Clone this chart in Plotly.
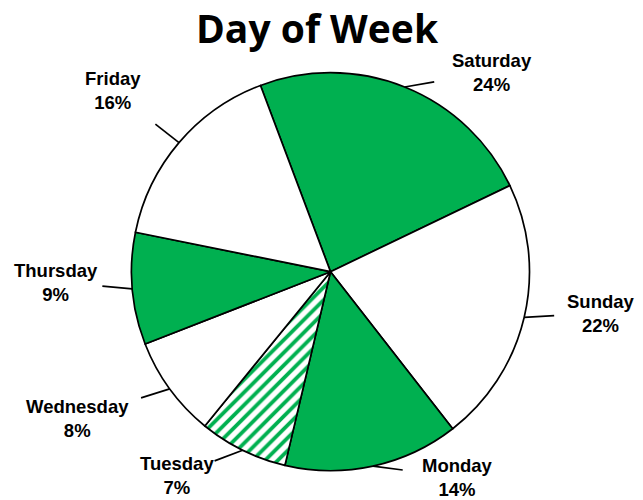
import math
import plotly.graph_objects as go

# ---- data ----
days = ["Saturday", "Sunday", "Monday", "Tuesday", "Wednesday", "Thursday", "Friday"]
shares = [23.6, 21.6, 14.2, 7.2, 8.2, 9.1, 16.1]
chart_title = "Day of Week"

# ---- styling / layout ----
GREEN = "#00B050"
slice_colors = [GREEN, "white", GREEN, "white", "white", GREEN, "white"]
slice_patterns = ["", "", "", "/", "", "", ""]

W, H = 643, 500
CX, CY, R = 330.5, 271.7, 199.0      # pie centre / radius in pixels
START_DEG = -20.6                    # first slice start (clockwise from 12 o'clock)

# where each outside label block is centred (pixels)
label_centres = {
    "Saturday": (492, 72),
    "Sunday": (601, 313),
    "Monday": (457, 477),
    "Tuesday": (177, 475),
    "Wednesday": (77, 418),
    "Thursday": (56, 282),
    "Friday": (113, 91),
}
LEADER_LEN = 30


def px(x):
    return x / W


def py(y):
    return 1 - y / H


fig = go.Figure()
fig.add_trace(go.Pie(
    labels=days,
    values=shares,
    sort=False,
    direction="clockwise",
    rotation=START_DEG,
    textinfo="none",
    hoverinfo="label+percent",
    showlegend=False,
    domain=dict(x=[px(CX - R), px(CX + R)], y=[py(CY + R), py(CY - R)]),
    marker=dict(
        colors=slice_colors,
        line=dict(color="black", width=1.7),
        pattern=dict(shape=slice_patterns, fgcolor=GREEN, size=9, solidity=0.42),
    ),
))

total = sum(shares)
shapes = []
annotations = []
acc = 0.0
for day, v in zip(days, shares):
    mid = math.radians(START_DEG + (acc + v / 2) / total * 360)
    acc += v
    ex, ey = CX + R * math.sin(mid), CY - R * math.cos(mid)
    lx, ly = label_centres[day]
    dx, dy = lx - ex, ly - ey
    d = math.hypot(dx, dy)
    fx, fy = ex + LEADER_LEN * dx / d, ey + LEADER_LEN * dy / d
    shapes.append(dict(type="line", xref="paper", yref="paper",
                       x0=px(ex), y0=py(ey), x1=px(fx), y1=py(fy),
                       line=dict(color="black", width=1.7)))
    pct = round(v / total * 100)
    annotations.append(dict(
        text=f"{day}<br>{pct}%", x=px(lx), y=py(ly), xref="paper", yref="paper",
        xanchor="center", yanchor="middle", showarrow=False, align="center",
        font=dict(family="Liberation Sans, Arial, sans-serif", size=18.5,
                  color="black", weight="bold"),
    ))

annotations.append(dict(
    text=chart_title, x=px(317.5), y=py(27), xref="paper", yref="paper",
    xanchor="center", yanchor="middle", showarrow=False,
    font=dict(family="Open Sans, sans-serif", size=39, color="black", weight="bold"),
))

fig.update_layout(
    width=W, height=H,
    margin=dict(l=0, r=0, t=0, b=0),
    paper_bgcolor="white", plot_bgcolor="white",
    shapes=shapes, annotations=annotations,
)

fig.write_html("out.html",
               config={"displayModeBar": False},
               post_script="document.body.style.margin='0';document.body.style.padding='0';")
